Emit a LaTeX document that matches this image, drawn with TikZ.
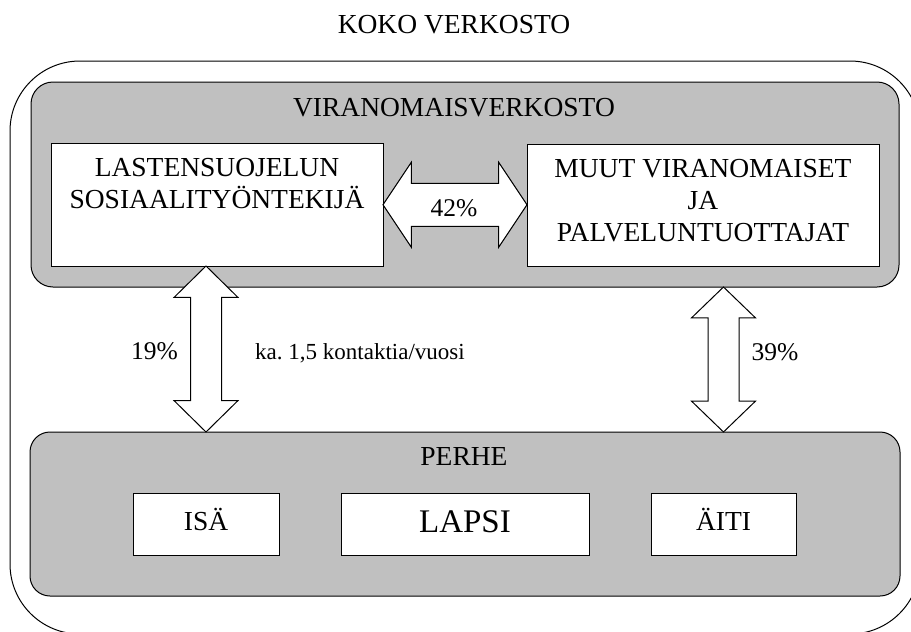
\documentclass[tikz,border=0pt]{standalone}
\usepackage{fontspec}
\setmainfont{Liberation Serif}
\usepackage{tikz}
\usetikzlibrary{calc}
\usetikzlibrary{positioning}
\usetikzlibrary{shapes.arrows}
\definecolor{boxgray}{RGB}{192, 192, 192}

\begin{document}
\begin{tikzpicture}[x=1pt, y=-1pt,
    every node/.style={font=\fontsize{27.5}{32}\selectfont},
    graybox/.style={draw, line width=1pt, fill=boxgray, rounded corners=#1, inner sep=0pt},
    whitebox/.style={draw, line width=1pt, fill=white, inner sep=0pt},
    boxtext/.style={anchor=north, inner sep=0pt, yshift=-16pt, align=center},
    famtext/.style={text height=20pt, text depth=8pt},
    pcttext/.style={anchor=base, inner sep=0pt, font=\fontsize{25.5}{30}\selectfont},
    fatarrow/.style={double arrow, draw, line width=1pt, fill=white, inner xsep=0pt, minimum width=0pt}]
  \useasboundingbox (0,0) rectangle (911,632);
  \clip (0,0) rectangle (911,632);
  \node[anchor=base] (koko) at (454,33) {KOKO VERKOSTO};
  \draw[line width=1pt, rounded corners=70pt] (10,61) rectangle (920,634);
  % viranomaisverkosto
  \node[graybox=22pt, minimum width=868pt, minimum height=205pt] (vir) at (465,184.5) {};
  \node[anchor=base] (virtitle) at (454,116) {VIRANOMAISVERKOSTO};
  \node[whitebox, minimum width=332pt, minimum height=123pt] (lsw) at (217,204.5) {};
  \node[boxtext] (lswtext) at (lsw.north) {LASTENSUOJELUN\\SOSIAALITYÖNTEKIJÄ};
  \node[whitebox, minimum width=352pt, minimum height=122pt] (muut) at (703,205) {};
  \node[boxtext] (muuttext) at (muut.north) {MUUT VIRANOMAISET\\JA\\PALVELUNTUOTTAJAT};
  % perhe
  \node[graybox=20pt, minimum width=870pt, minimum height=164pt] (perhe) at (465,514) {};
  \node[anchor=base] (perhetitle) at (464,465) {PERHE};
  \node[whitebox, famtext, minimum width=146pt, minimum height=62pt] (isa) at (206,524) {ISÄ};
  \node[whitebox, famtext, text height=23pt, text depth=7pt, minimum width=248pt, minimum height=62pt, font=\fontsize{33}{38}\selectfont] (lapsi) at (465,524) {LAPSI};
  \node[whitebox, famtext, minimum width=145pt, minimum height=62pt] (aiti) at (723.5,524) {ÄITI};
  % nuolet
  \path (lsw.east) -- (muut.west)
    node[midway, fatarrow, inner ysep=21pt, double arrow head extend=21pt, double arrow tip angle=112.6, minimum height=144pt] (a42) {};
  \path (isa |- lsw.south) -- (isa |- perhe.north)
    node[midway, fatarrow, rotate=90, inner ysep=15pt, double arrow head extend=16.5pt, double arrow tip angle=91, minimum height=166pt] (a19) {};
  \path (aiti |- vir.south) -- (aiti |- perhe.north)
    node[midway, fatarrow, rotate=90, inner ysep=15pt, double arrow head extend=16.5pt, double arrow tip angle=92, minimum height=145pt] (a39) {};
  \node[pcttext] (p42) at (454,216) {42\%};
  \node[pcttext] (p19) at (154.5,359) {19\%};
  \node[pcttext] (p39) at (775,360) {39\%};
  \node[anchor=base west, inner sep=0pt, font=\fontsize{23}{27}\selectfont] (ka) at (255,359) {ka.\ 1,5 kontaktia/vuosi};
\end{tikzpicture}
\end{document}
